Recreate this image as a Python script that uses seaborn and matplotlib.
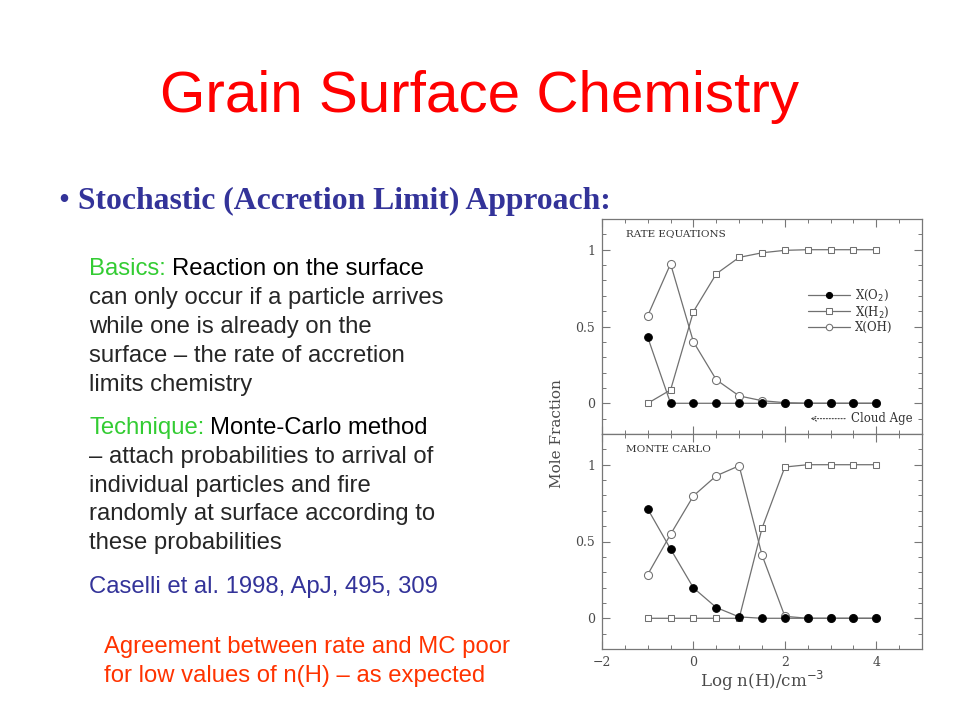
import numpy as np
import pandas as pd
import matplotlib
matplotlib.use("Agg")
import matplotlib.pyplot as plt
import seaborn as sns
from matplotlib.ticker import MultipleLocator, FuncFormatter

sns.set_style("white")
plt.rcParams['font.family'] = ['Liberation Sans', 'DejaVu Sans']

# data
log_nh = [-1, -0.5, 0, 0.5, 1, 1.5, 2, 2.5, 3, 3.5, 4]

rate_o2 = [0.43, 0, 0, 0, 0, 0, 0, 0, 0, 0, 0]
rate_h2 = [0, 0.087, 0.597, 0.843, 0.95, 0.98, 0.996, 1, 1, 1, 1]
rate_oh = [0.57, 0.908, 0.40, 0.153, 0.048, 0.017, 0.004, 0, 0, 0, 0]

mc_o2 = [0.712, 0.451, 0.198, 0.07, 0.009, 0, 0, 0, 0, 0, 0]
mc_h2 = [0, 0, 0, 0, 0, 0.586, 0.985, 1, 1, 1, 1]
mc_oh = [0.285, 0.547, 0.797, 0.928, 0.993, 0.412, 0.013, 0, 0, 0, 0]

series_names = ['X(O$_2$)', 'X(H$_2$)', 'X(OH)']
panel_titles = ['RATE EQUATIONS', 'MONTE CARLO']

W, H = 960, 720
fig = plt.figure(figsize=(9.6, 7.2), dpi=100)


def px(x, y):
    return x / W, 1 - y / H


line_col = '#707070'
serif = ['DejaVu Serif']
chart_txt = '#4a4a4a'

# two stacked panels
ax_top = fig.add_axes([602 / W, 1 - 434 / H, 320 / W, 215 / H])
ax_bot = fig.add_axes([602 / W, 1 - 649 / H, 320 / W, 215 / H])

styles = [
    dict(marker='o', markerfacecolor='black', markeredgecolor='black', markersize=5.5),
    dict(marker='s', markerfacecolor='white', markeredgecolor=line_col, markersize=5),
    dict(marker='o', markerfacecolor='white', markeredgecolor=line_col, markersize=5.8),
]

for ax, data, title in [(ax_top, [rate_o2, rate_h2, rate_oh], panel_titles[0]),
                        (ax_bot, [mc_o2, mc_h2, mc_oh], panel_titles[1])]:
    # draw open symbols first so filled ones sit on top
    for i in [2, 1, 0]:
        sns.lineplot(x=log_nh, y=data[i], ax=ax, color=line_col, linewidth=0.9,
                     label=series_names[i], zorder=3 + (2 - i), **styles[i])
    ax.set_xlim(-2, 5)
    ax.set_ylim(-0.2, 1.2)
    ax.xaxis.set_major_locator(MultipleLocator(2))
    ax.xaxis.set_minor_locator(MultipleLocator(0.5))
    ax.yaxis.set_major_locator(MultipleLocator(0.5))
    ax.yaxis.set_minor_locator(MultipleLocator(0.1))
    ax.tick_params(which='both', direction='in', top=True, right=True,
                   bottom=True, left=True, color='#777777')
    ax.tick_params(which='major', length=6, width=0.8)
    ax.tick_params(which='minor', length=3, width=0.7)
    ax.yaxis.set_major_formatter(FuncFormatter(lambda v, p: '%g' % v))
    ax.xaxis.set_major_formatter(FuncFormatter(lambda v, p: ('%g' % v).replace('-', '\u2212')))
    for lab in ax.get_xticklabels() + ax.get_yticklabels():
        lab.set_fontfamily(serif)
        lab.set_fontsize(9)
        lab.set_color(chart_txt)
    ax.tick_params(axis='y', pad=5)
    ax.tick_params(axis='x', pad=5)
    for s in ax.spines.values():
        s.set_color('#777777')
        s.set_linewidth(0.9)
    ax.set_xlabel('')
    ax.set_ylabel('')
    ax.text(0.075, 0.93, title, transform=ax.transAxes, family=serif,
            fontsize=7.5, color='#333333', va='center', ha='left')
    ax.get_legend().remove()

ax_top.tick_params(axis='x', labelbottom=False)

handles, labels = ax_top.get_legend_handles_labels()
order = [labels.index(n) for n in series_names]
leg = ax_top.legend([handles[k] for k in order], series_names, loc='center left',
                    bbox_to_anchor=(0.61, 0.572), frameon=False, handlelength=3.6,
                    handletextpad=0.4, labelspacing=0.12, numpoints=1,
                    prop={'family': serif, 'size': 8.5}, markerscale=0.8)
for t in leg.get_texts():
    t.set_color('#333333')

ax_top.annotate('Cloud Age', xy=(2.5, -0.1), xytext=(3.45, -0.1), family=serif,
                fontsize=8.5, color='#333333', va='center', ha='left',
                arrowprops=dict(arrowstyle='->', linestyle=':', color='#444444', lw=0.8))

fig.text(*px(557, 434), 'Mole Fraction', rotation=90, family=serif, fontsize=11,
         color=chart_txt, ha='center', va='center')
fig.text(*px(762, 687), 'Log n(H)/cm$^{-3}$', family=serif, fontsize=12,
         color=chart_txt, ha='center', va='baseline')

# slide text
fig.text(*px(480, 112), 'Grain Surface Chemistry', fontsize=42, color='#ff0000',
         ha='center', va='baseline')
fig.text(*px(58, 209), '\u2022', fontsize=22.8, color='#333399', va='baseline',
         family=['Liberation Serif'])
fig.text(*px(78, 209), 'Stochastic (Accretion Limit) Approach:', fontsize=22.8,
         color='#333399', va='baseline', family=['Liberation Serif'], weight='bold')

renderer = fig.canvas.get_renderer()
body_size = 17.2
green = '#33cc33'


def two_color(x, y, head, rest, head_col, rest_col='black'):
    t = fig.text(*px(x, y), head, fontsize=body_size, color=head_col, va='baseline')
    w = t.get_window_extent(renderer=renderer).width
    fig.text(*px(x + w + 6, y), rest, fontsize=body_size, color=rest_col, va='baseline')


two_color(89, 275, 'Basics:', 'Reaction on the surface', green)
for i, line in enumerate(['can only occur if a particle arrives',
                          'while one is already on the',
                          'surface \u2013 the rate of accretion',
                          'limits chemistry']):
    fig.text(*px(89, 304 + 29 * i), line, fontsize=body_size, va='baseline')

two_color(89, 434, 'Technique:', 'Monte-Carlo method', green)
for i, line in enumerate(['\u2013 attach probabilities to arrival of',
                          'individual particles and fire',
                          'randomly at surface according to',
                          'these probabilities']):
    fig.text(*px(89, 463 + 28.7 * i), line, fontsize=body_size, va='baseline')

fig.text(*px(89, 593), 'Caselli et al. 1998, ApJ, 495, 309', fontsize=body_size,
         color='#333399', va='baseline')

fig.text(*px(104, 653), 'Agreement between rate and MC poor', fontsize=body_size,
         color='#ff3300', va='baseline')
fig.text(*px(104, 682), 'for low values of n(H) \u2013 as expected', fontsize=body_size,
         color='#ff3300', va='baseline')

fig.savefig('out.png', dpi=100)
